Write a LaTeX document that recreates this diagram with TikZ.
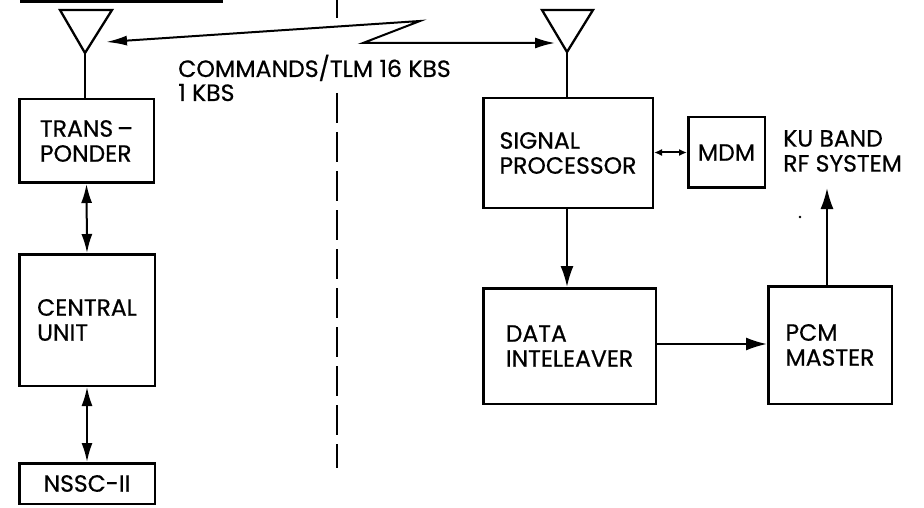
\documentclass[tikz,border=0pt]{standalone}
\usepackage{fontspec}
\setmainfont{Poppins}[FakeBold=0.6]
\usetikzlibrary{arrows.meta}
\begin{document}
\begin{tikzpicture}[x=1pt,y=-1pt,
  box/.style={draw,line width=2.5pt,rectangle,inner sep=0pt,align=left,
    font=\fontsize{23.5}{25}\selectfont},
  lbl/.style={inner sep=0pt,font=\fontsize{23.6}{21}\selectfont},
  conn/.style={line width=2pt},
  bigtip/.style={-{Latex[length=21pt,width=13pt]}},
  dbl/.style={{Latex[length=19pt,width=11pt]}-{Latex[length=19pt,width=11pt]}},
  ant/.style={line width=2.3pt,line join=miter}]
\useasboundingbox (0,0) rectangle (924,508);
% top underline (cropped title)
\draw[line width=3pt] (20,1.5) -- (223,1.5);
% dashed separator
\draw[line width=2.6pt] (337,0) -- (337,18);
\draw[line width=2.6pt,dash pattern=on 30pt off 9pt] (337,93) -- (337,468);
% boxes
\node[box,minimum width=134.5pt,minimum height=83.5pt] (trans) at (86.5,141) {TRANS\,–\\PONDER};
\node[box,minimum width=135.5pt,minimum height=131.5pt] (central) at (87,320) {CENTRAL\\UNIT};
\node[box,minimum width=135.5pt,minimum height=40.5pt] (nssc) at (87,483.5) {NSSC-II};
\node[box,minimum width=169.5pt,minimum height=109.5pt] (sp) at (568,153) {SIGNAL\\PROCESSOR};
\node[box,minimum width=76.5pt,minimum height=70.5pt] (mdm) at (726.5,152.5) {MDM};
\node[box,minimum width=172.5pt,minimum height=115.5pt] (di) at (569.5,346) {DATA\\INTELEAVER};
\node[box,minimum width=123.5pt,minimum height=117.5pt] (pcm) at (830,345) {PCM\\MASTER};
% labels
\node[lbl,anchor=base west] (cmd1) at (178,77) {COMMANDS/TLM 16 KBS};
\node[lbl,anchor=base west] (cmd2) at (178,101) {1 KBS};
\node[box,draw=none,anchor=west] (ku) at (782,151) {KU BAND\\RF SYSTEM};
% antennas
\coordinate (lap) at (85,53);
\coordinate (rap) at (567,52);
\draw[ant] (60,10) -- (112,10) -- (lap) -- cycle;
\draw[ant] (542,10) -- (593,10) -- (rap) -- cycle;
\draw[conn] (lap) -- (lap |- trans.north);
\draw[conn] (rap) -- (rap |- sp.north);
% radio link
\coordinate (la) at (106,42);
\coordinate (ra) at (555,43);
\coordinate (z1) at (420,21);
\coordinate (z2) at (363,43);
\draw[conn,{Latex[length=21pt,width=10pt]}-{Latex[length=20pt,width=11pt]}] (la) -- (z1) -- (z2) -- (ra);
% connectors
\draw[conn,dbl] (trans.south) -- (central.north);
\draw[conn,dbl] (central.south) -- (nssc.north);
\draw[conn,{Latex[length=8pt,width=7pt]}-{Latex[length=8pt,width=7pt]}] (mdm.west -| sp.east) -- (mdm.west);
\draw[conn,bigtip] (567,0 |- sp.south) -- (567,0 |- di.north);
\draw[conn,bigtip] (di.east |- 0,344) -- (pcm.west |- 0,344);
\coordinate (kut) at (827,188);
\draw[conn,bigtip] (kut |- pcm.north) -- (kut);
% speck
\fill (800,217) circle (1.3pt);
\end{tikzpicture}
\end{document}
